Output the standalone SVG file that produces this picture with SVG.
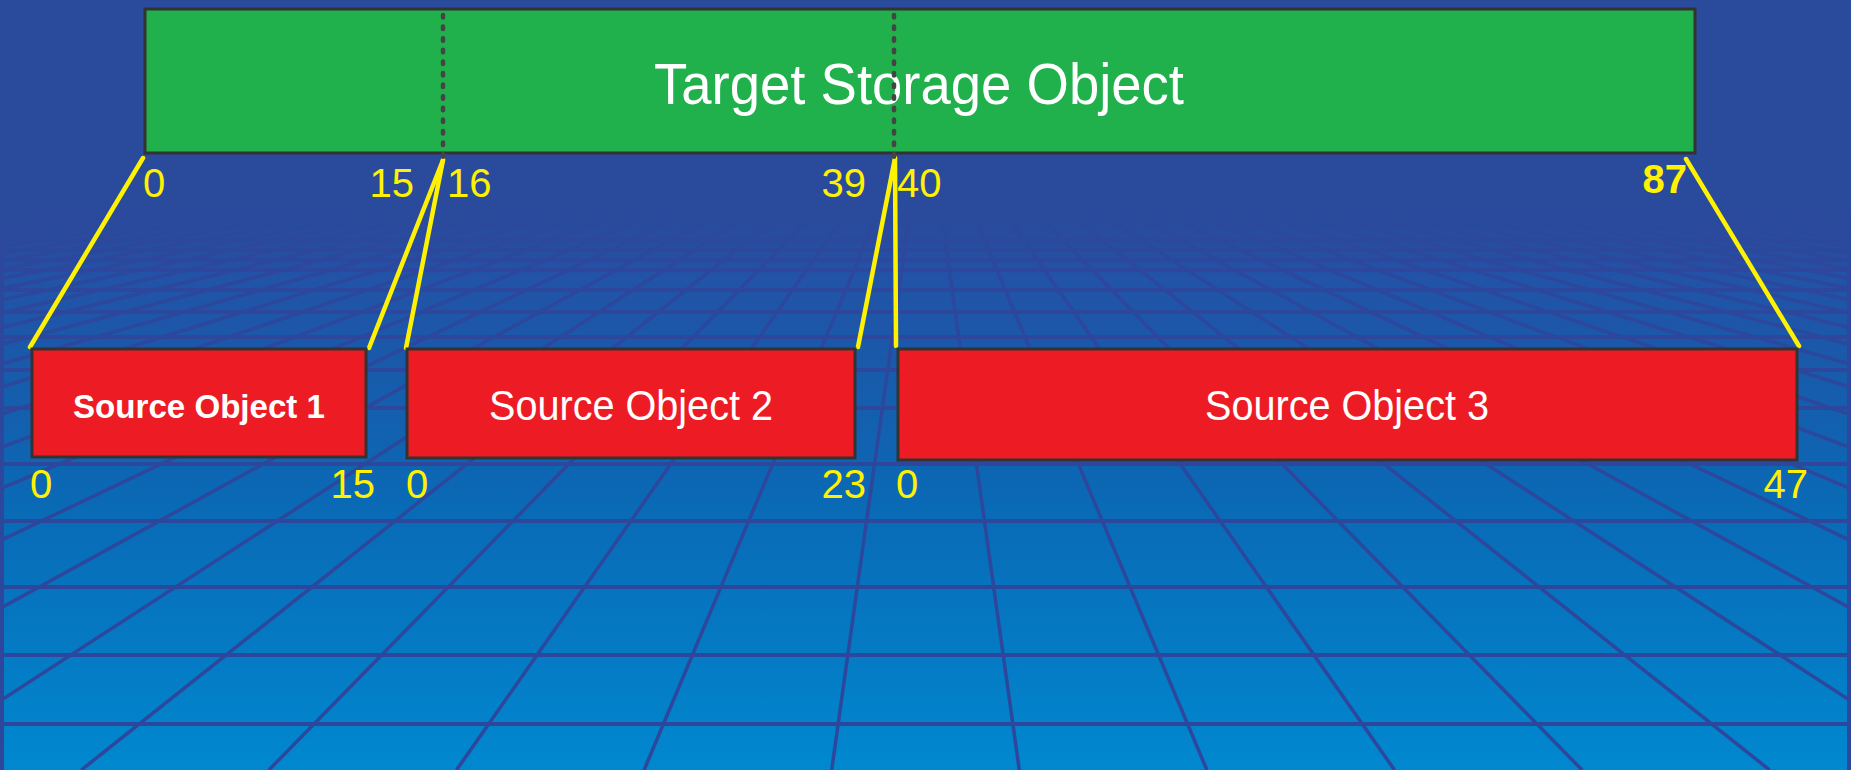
<svg xmlns="http://www.w3.org/2000/svg" width="1851" height="770" viewBox="0 0 1851 770">
  <defs>
    <linearGradient id="floor" x1="0" y1="205" x2="0" y2="770" gradientUnits="userSpaceOnUse">
      <stop offset="0" stop-color="#2a4a9c"/>
      <stop offset="0.1" stop-color="#2352a6"/>
      <stop offset="0.27" stop-color="#1a59aa"/>
      <stop offset="0.52" stop-color="#0a69b5"/>
      <stop offset="1" stop-color="#0088cf"/>
    </linearGradient>
    <linearGradient id="fade" x1="0" y1="205" x2="0" y2="278" gradientUnits="userSpaceOnUse">
      <stop offset="0" stop-color="#2a4a9c" stop-opacity="1"/>
      <stop offset="1" stop-color="#2a4a9c" stop-opacity="0"/>
    </linearGradient>
    <clipPath id="floorClip">
      <rect x="0" y="210" width="1851" height="560"/>
    </clipPath>
  </defs>
  <style>
    .grid { stroke: #2d479d; fill: none; }
    .h { stroke-width: 4; }
    .r { stroke-width: 3.5; }
    .box { stroke: #333333; stroke-width: 3; }
    .target { fill: #20b14c; }
    .source { fill: #ed1c24; }
    .label { font-family: "Liberation Sans", Arial, sans-serif; fill: #ffffff; text-anchor: middle; }
    .num { font-family: "Liberation Sans", Arial, sans-serif; fill: #fff200; font-size: 40px; }
    .dots { stroke: #444444; stroke-width: 4.5; stroke-linecap: round; stroke-dasharray: 2.5 9.1; fill: none; }
    .link { stroke: #fff200; stroke-width: 4.5; stroke-linecap: round; fill: none; }
  </style>

  <g id="background">
    <rect x="0" y="0" width="1851" height="770" fill="#2a4a9c"/>
    <rect x="0" y="205" width="1851" height="565" fill="url(#floor)"/>
    <g clip-path="url(#floorClip)">
      <path class="grid h" d="M0 240H1851M0 250H1851M0 260H1851M0 270H1851M0 290H1851M0 312H1851M0 337H1851M0 370H1851M0 408H1851M0 464H1851M0 521H1851M0 587H1851M0 655H1851M0 724H1851"/>
      <path class="grid r" d="M925.5 100L831.7 770M925.5 100L1019.3 770M925.5 100L644.1 770M925.5 100L1206.9 770M925.5 100L456.5 770M925.5 100L1394.5 770M925.5 100L268.9 770M925.5 100L1582.1 770M925.5 100L81.3 770M925.5 100L1769.7 770M925.5 100L-106.3 770M925.5 100L1957.3 770M925.5 100L-293.9 770M925.5 100L2144.9 770M925.5 100L-481.5 770M925.5 100L2332.5 770M925.5 100L-669.1 770M925.5 100L2520.1 770M925.5 100L-856.7 770M925.5 100L2707.7 770M925.5 100L-1044.3 770M925.5 100L2895.3 770M925.5 100L-1231.9 770M925.5 100L3082.9 770M925.5 100L-1419.5 770M925.5 100L3270.5 770M925.5 100L-1607.1 770M925.5 100L3458.1 770M925.5 100L-1794.7 770M925.5 100L3645.7 770M925.5 100L-1982.3 770M925.5 100L3833.3 770M925.5 100L-2169.9 770M925.5 100L4020.9 770M925.5 100L-2357.5 770M925.5 100L4208.5 770M925.5 100L-2545.1 770M925.5 100L4396.1 770M925.5 100L-2732.7 770M925.5 100L4583.7 770M925.5 100L-2920.3 770M925.5 100L4771.3 770M925.5 100L-3107.9 770M925.5 100L4958.9 770M925.5 100L-3295.5 770M925.5 100L5146.5 770M925.5 100L-3483.1 770M925.5 100L5334.1 770M925.5 100L-3670.7 770M925.5 100L5521.7 770M925.5 100L-3858.3 770M925.5 100L5709.3 770M925.5 100L-4045.9 770M925.5 100L5896.9 770M925.5 100L-4233.5 770M925.5 100L6084.5 770M925.5 100L-4421.1 770M925.5 100L6272.1 770"/>
      <path class="grid h" d="M2 205V770M1849 205V770"/>
    </g>
    <rect x="0" y="205" width="1851" height="73" fill="url(#fade)"/>
  </g>

  <g id="connectors">
    <line class="link" x1="143" y1="158" x2="30" y2="347"/>
    <line class="link" x1="443" y1="160" x2="369" y2="348"/>
    <line class="link" x1="443" y1="160" x2="406" y2="348"/>
    <line class="link" x1="895" y1="158" x2="858" y2="347"/>
    <line class="link" x1="895" y1="158" x2="896" y2="346"/>
    <line class="link" x1="1686" y1="159" x2="1799" y2="346"/>
  </g>

  <g id="target">
    <rect class="box target" x="145" y="9" width="1550" height="144"/>
    <text class="label" x="919" y="104" font-size="57" textLength="530" lengthAdjust="spacingAndGlyphs">Target Storage Object</text>
    <line class="dots" x1="443" y1="15" x2="443" y2="157"/>
    <line class="dots" x1="894" y1="15" x2="894" y2="157"/>
  </g>

  <g id="source1">
    <rect class="box source" x="32" y="349" width="334" height="108"/>
    <text class="label" x="199" y="418" font-size="34" font-weight="bold" textLength="252" lengthAdjust="spacingAndGlyphs">Source Object 1</text>
  </g>

  <g id="source2">
    <rect class="box source" x="407" y="349" width="448" height="109"/>
    <text class="label" x="631" y="420" font-size="42" textLength="284" lengthAdjust="spacingAndGlyphs">Source Object 2</text>
  </g>

  <g id="source3">
    <rect class="box source" x="898" y="349" width="899" height="111"/>
    <text class="label" x="1347" y="420" font-size="42" textLength="284" lengthAdjust="spacingAndGlyphs">Source Object 3</text>
  </g>

  <g id="offsets">
    <text class="num" x="143" y="197">0</text>
    <text class="num" x="414" y="197" text-anchor="end">15</text>
    <text class="num" x="447" y="197">16</text>
    <text class="num" x="866" y="197" text-anchor="end">39</text>
    <text class="num" x="897" y="197">40</text>
    <text class="num" x="1687" y="193" text-anchor="end" font-size="33" font-weight="bold">87</text>
    <text class="num" x="30" y="498">0</text>
    <text class="num" x="375" y="498" text-anchor="end">15</text>
    <text class="num" x="406" y="498">0</text>
    <text class="num" x="866" y="498" text-anchor="end">23</text>
    <text class="num" x="896" y="498">0</text>
    <text class="num" x="1808" y="498" text-anchor="end">47</text>
  </g>
</svg>
